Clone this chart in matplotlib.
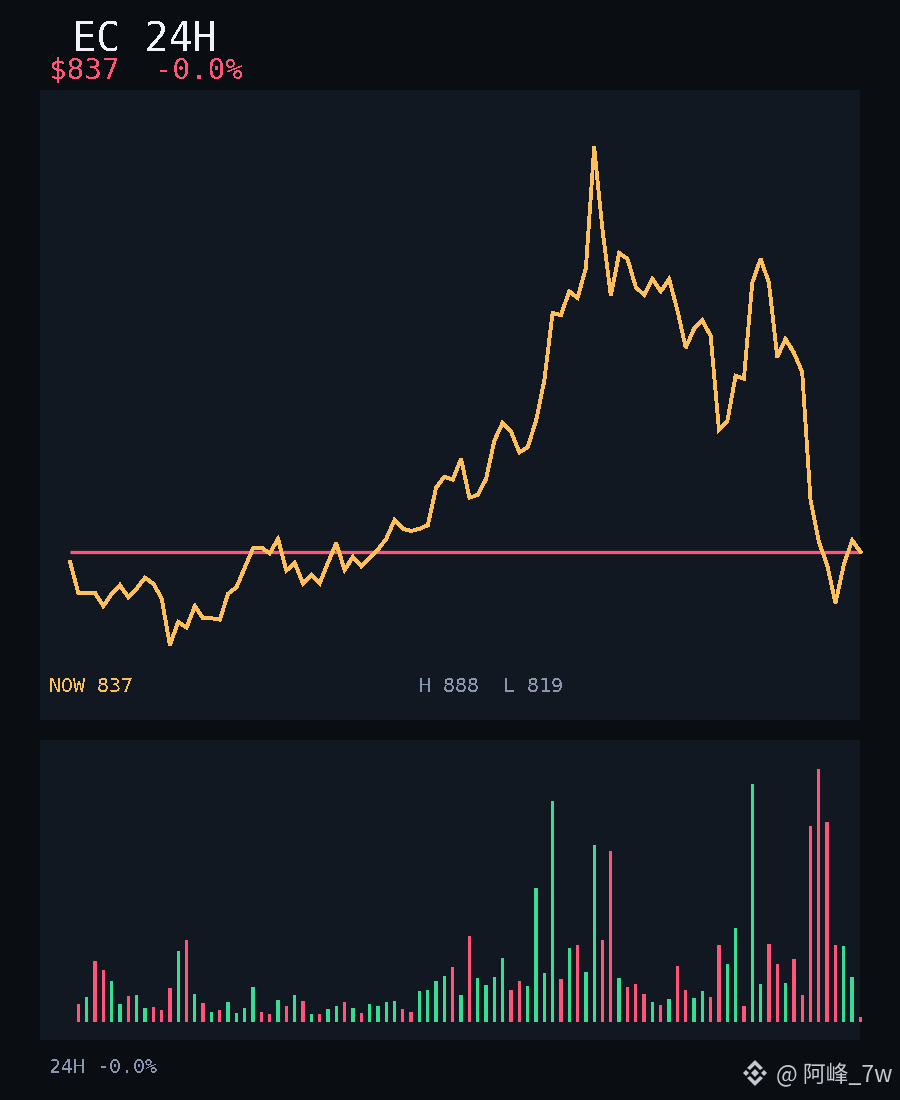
import matplotlib
matplotlib.use('Agg')
import matplotlib.pyplot as plt
from matplotlib.patches import Polygon

WIDTH, HEIGHT = 900, 1100
BG = '#0a0d12'
PANEL = '#111822'
RED = '#ff5577'
GREEN = '#38dc92'
ORANGE = '#ffc05c'
WHITE = '#f0f4f8'
GRAY = '#8a96b0'

price = [830.5, 826.2, 826.2, 826.2, 824.4, 826.1, 827.3, 825.6, 826.8, 828.3,
         827.5, 825.5, 819.0, 822.2, 821.4, 824.4, 822.7, 822.7, 822.5, 826.1,
         827.0, 829.7, 832.4, 832.5, 831.7, 833.7, 829.3, 830.4, 827.5, 828.7,
         827.5, 830.4, 833.1, 829.4, 831.2, 829.9, 831.1, 832.2, 833.7, 836.3,
         835.1, 834.8, 835.1, 835.6, 840.8, 842.3, 841.9, 844.8, 839.4, 839.8,
         842.0, 847.3, 849.8, 848.6, 845.7, 846.4, 850.0, 855.6, 865.0, 864.7,
         868.0, 867.1, 871.2, 888.0, 876.5, 867.4, 873.3, 872.5, 868.6, 867.5,
         869.7, 868.0, 869.7, 865.4, 860.2, 862.8, 864.0, 861.8, 848.8, 850.0,
         856.3, 855.9, 869.2, 872.5, 869.2, 858.9, 861.4, 859.5, 856.8, 839.1,
         833.3, 830.1, 824.8, 830.1, 833.5, 831.9]

volume = [18, 25, 61, 52, 41, 18, 26, 27, 14, 15, 12, 34, 71, 82, 28, 19,
          10, 12, 20, 9, 14, 35, 10, 8, 22, 16, 27, 21, 8, 8, 13, 16,
          20, 14, 9, 18, 16, 20, 21, 13, 10, 31, 32, 41, 46, 55, 27, 86,
          44, 37, 45, 64, 32, 41, 36, 134, 49, 221, 43, 74, 77, 50, 177, 82,
          171, 44, 35, 38, 28, 20, 17, 23, 56, 32, 24, 31, 25, 77, 58, 94,
          16, 238, 38, 78, 58, 39, 63, 27, 196, 253, 200, 77, 76, 45, 5]

# one letter per volume bar, ten to a group: u = green, d = red
volume_side = ('dudduuduud' 'ddudududuu' 'uuddududud' 'uududuuuud' 'duuuududuu'
               'uudduuuudu' 'duuddudddu' 'dudduudduu' 'duuddudddd' 'dduud')


def px_ax(fig, left, top, right, bottom):
    ax = fig.add_axes([left / WIDTH, 1 - bottom / HEIGHT,
                       (right - left) / WIDTH, (bottom - top) / HEIGHT])
    ax.set_facecolor(PANEL)
    ax.set_xticks([])
    ax.set_yticks([])
    for spine in ax.spines.values():
        spine.set_visible(False)
    return ax


def px_text(fig, x, y, s, size, color):
    t = fig.text(x / WIDTH, 1 - y / HEIGHT, s, fontsize=size, color=color,
                 family='DejaVu Sans Mono', ha='left', va='baseline')
    t.set_antialiased(False)
    return t


fig = plt.figure(figsize=(WIDTH / 100, HEIGHT / 100), dpi=100, facecolor=BG)

ax = px_ax(fig, 40, 90, 860, 720)
xs = list(range(len(price)))
ax.plot([xs[0], xs[-1]], [price[-1], price[-1]], color=RED, linewidth=2.35,
        solid_capstyle='butt', clip_on=False, zorder=2)
ax.plot(xs, price, color=ORANGE, linewidth=2.0, antialiased=False,
        solid_joinstyle='miter', clip_on=False, zorder=3)
ax.set_xlim(-3.61, 94.95)
ax.set_ylim(808.6, 895.9)

vol_ax = px_ax(fig, 40, 740, 860, 1040)
vol_x = list(range(1, len(volume) + 1))
vol_colors = [GREEN if s == 'u' else RED for s in volume_side]
vol_ax.bar(vol_x, volume, width=0.4, color=vol_colors, linewidth=0,
           antialiased=False, clip_on=False)
vol_ax.set_xlim(-3.61, 94.95)
vol_ax.set_ylim(-18, 282)

px_text(fig, 72, 52, 'EC 24H', 28.8, WHITE)
px_text(fig, 49, 79, '$837  -0.0%', 21.2, RED)
px_text(fig, 49, 692, 'NOW 837', 14.4, ORANGE)
px_text(fig, 419, 692, 'H 888  L 819', 14.4, GRAY)
px_text(fig, 49, 1073, '24H -0.0%', 14.4, GRAY)

fig.text(776 / WIDTH, 1 - 1082 / HEIGHT, '@ 阿峰_7w', fontsize=16.5, color='#c4c8d0',
         family=['Noto Sans CJK SC', 'DejaVu Sans'], ha='left', va='baseline')

# watermark logo, centred at (755, 1073)
def logo_part(points):
    verts = [((755 + dx) / WIDTH, 1 - (1073 + dy) / HEIGHT) for dx, dy in points]
    fig.add_artist(Polygon(verts, closed=True, transform=fig.transFigure,
                           facecolor='#c4c8d0', edgecolor='none'))


logo_part([(0, -4), (4, 0), (0, 4), (-4, 0)])
logo_part([(-9, -3), (-6, 0), (-9, 3), (-12, 0)])
logo_part([(9, -3), (12, 0), (9, 3), (6, 0)])
logo_part([(0, -13), (8, -5), (5, -3), (0, -8), (-5, -3), (-8, -5)])
logo_part([(0, 13), (8, 5), (5, 3), (0, 8), (-5, 3), (-8, 5)])

fig.savefig('out.png', dpi=100, facecolor=BG)
